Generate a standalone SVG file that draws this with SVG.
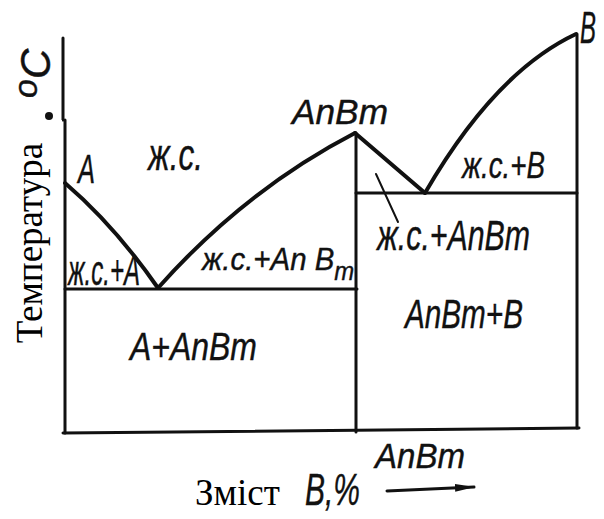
<svg xmlns="http://www.w3.org/2000/svg" width="604" height="519" viewBox="0 0 604 519">
<style>
.ln{fill:none;stroke:#111;stroke-width:3;stroke-linecap:round;stroke-linejoin:round}
.cv{fill:none;stroke:#111;stroke-width:4;stroke-linecap:round}
.lab{font-family:"Liberation Sans",Arial,sans-serif;font-style:italic;fill:#111;stroke:#111;stroke-width:0.4}
.ser{font-family:"Liberation Serif","Times New Roman",serif;fill:#000}
</style>
<defs>
<marker id="ah" markerWidth="20" markerHeight="10" refX="19" refY="5" orient="auto" markerUnits="userSpaceOnUse">
<polygon points="0,1 20,5 0,9" fill="#111"/>
</marker>
</defs>
<rect width="604" height="519" fill="#fff"/>
<g id="axes">
<line class="ln" x1="63" y1="38" x2="63" y2="120"/>
<line class="ln" x1="65" y1="120" x2="65" y2="433"/>
<line class="ln" x1="63" y1="433" x2="579" y2="428"/>
<line class="ln" x1="577" y1="34" x2="577" y2="428"/>
<circle cx="49" cy="116" r="4" fill="#111"/>
</g>
<g id="lines">
<path class="cv" d="M65,183 Q115,226 158,288"/>
<path class="cv" d="M158,288 Q245,190 355,133"/>
<line class="cv" x1="355" y1="133" x2="425" y2="193"/>
<path class="cv" d="M425,193 Q495,72 576,34"/>
<line class="ln" x1="65" y1="289" x2="357" y2="289"/>
<line class="ln" x1="356" y1="193" x2="577" y2="193"/>
<line class="ln" x1="356" y1="133" x2="356" y2="432"/>
<line class="ln" x1="376" y1="174" x2="398" y2="222" style="stroke-width:2"/>
<line class="ln" x1="387" y1="491" x2="474" y2="487" style="stroke-width:3" marker-end="url(#ah)"/>
</g>
<rect x="0" y="120" width="62" height="262" fill="#fff"/>
<g id="labels">
<text class="lab" x="78" y="183" font-size="40" textLength="17" lengthAdjust="spacingAndGlyphs">A</text>
<text class="lab" x="148" y="170" font-size="44" textLength="55" lengthAdjust="spacingAndGlyphs">ж.с.</text>
<text class="lab" x="68" y="285" font-size="42" textLength="72" lengthAdjust="spacingAndGlyphs">ж.с.+A</text>
<text class="lab" transform="translate(202,270) scale(0.92,1)" font-size="32">ж.с.+An B<tspan dy="10" font-size="26">m</tspan></text>
<text class="lab" x="130" y="360" font-size="38" textLength="127" lengthAdjust="spacingAndGlyphs">A+AnBm</text>
<text class="lab" x="377" y="250" font-size="42" textLength="153" lengthAdjust="spacingAndGlyphs">ж.с.+AnBm</text>
<text class="lab" x="405" y="328" font-size="40" textLength="118" lengthAdjust="spacingAndGlyphs">AnBm+B</text>
<text class="lab" x="462" y="178" font-size="36" textLength="83" lengthAdjust="spacingAndGlyphs">ж.с.+B</text>
<text class="lab" x="292" y="124" font-size="35" textLength="96" lengthAdjust="spacingAndGlyphs">AnBm</text>
<text class="lab" x="580" y="43" font-size="44" textLength="16" lengthAdjust="spacingAndGlyphs">B</text>
<text class="lab" x="305" y="505" font-size="44" textLength="55" lengthAdjust="spacingAndGlyphs">B,%</text>
<text class="lab" x="375" y="468" font-size="35" textLength="90" lengthAdjust="spacingAndGlyphs">AnBm</text>
<text class="lab" transform="translate(50,98) rotate(-90)" font-size="42"><tspan font-size="34" dy="-13">o</tspan><tspan dy="13">C</tspan></text>
<text class="ser" transform="translate(42,243) rotate(-90)" text-anchor="middle" font-size="37">Температура</text>
<text class="ser" x="195" y="505" font-size="37">Зміст</text>
</g>
</svg>
